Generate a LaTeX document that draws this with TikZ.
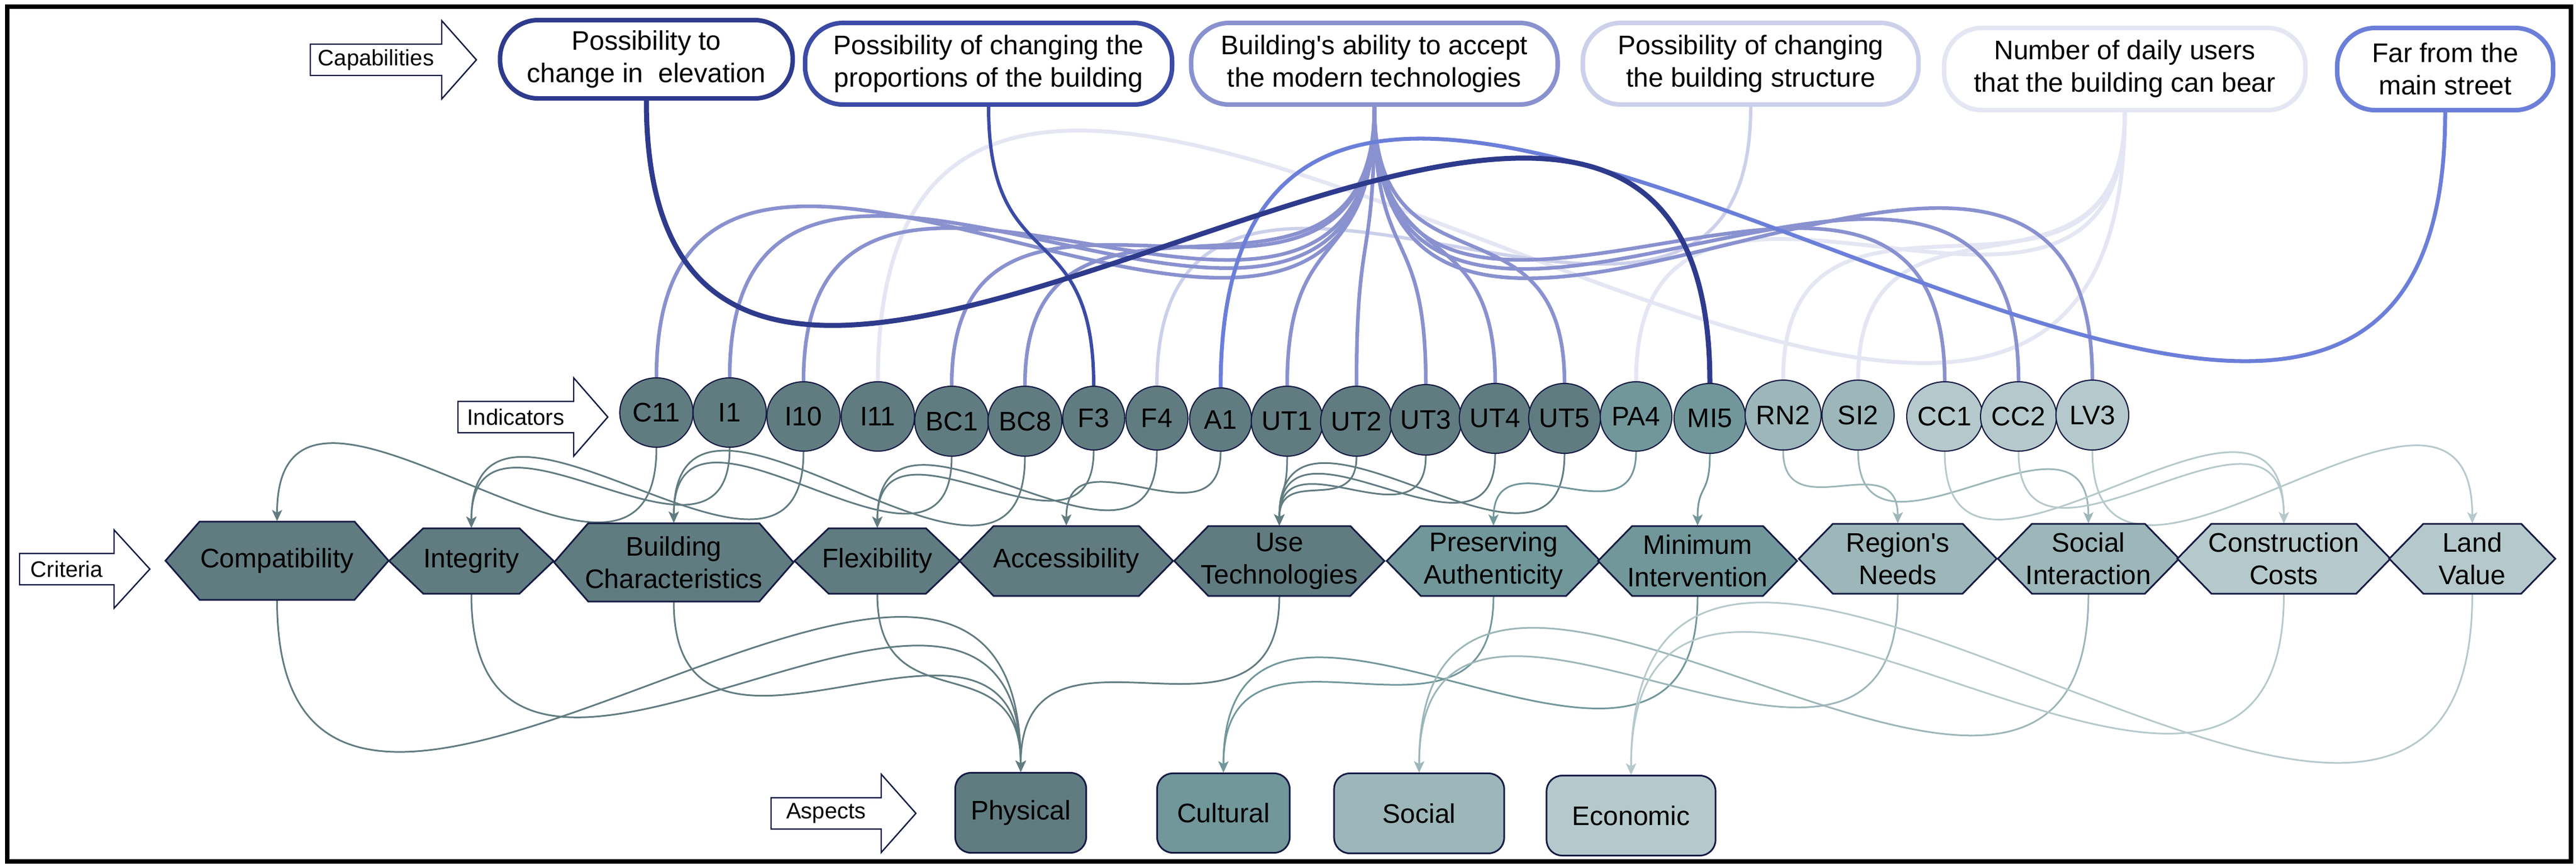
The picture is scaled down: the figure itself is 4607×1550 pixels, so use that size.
\documentclass[tikz,border=0pt]{standalone}
\usepackage{fontspec}
\setmainfont{Liberation Sans}[Ligatures=TeXOff]
\usetikzlibrary{shapes.geometric,arrows.meta,backgrounds}

\definecolor{capA}{HTML}{2E3A8C}
\definecolor{capB}{HTML}{3B4BA6}
\definecolor{capC}{HTML}{8991CF}
\definecolor{capD}{HTML}{CCD0EA}
\definecolor{capE}{HTML}{E5E6F3}
\definecolor{capF}{HTML}{6B7FD9}
\definecolor{tealA}{HTML}{617C81}
\definecolor{tealB}{HTML}{71979B}
\definecolor{tealC}{HTML}{9CB6B9}
\definecolor{tealD}{HTML}{B5C9CC}
\definecolor{nodeline}{HTML}{151B44}

\tikzset{
  capbox/.style={draw=#1, line width=2.3pt, rounded corners=0.68cm, fill=white,
    align=center, inner sep=0pt, font=\fontsize{13.66}{16.5}\selectfont},
  indnode/.style={ellipse, draw=nodeline, line width=0.6pt, fill=#1, inner sep=0pt,
    font=\fontsize{13.66}{16.5}\selectfont},
  crittext/.style={inner sep=0pt, align=center, font=\fontsize{13.66}{16.5}\selectfont},
  hexline/.style={draw=nodeline, line width=0.85pt, fill=#1},
  aspbox/.style={draw=nodeline, line width=0.85pt, fill=#1, rounded corners=0.28cm,
    inner sep=0pt, font=\fontsize{13.66}{16.5}\selectfont},
  lblline/.style={draw=nodeline, line width=0.7pt, fill=white},
  lbltext/.style={inner sep=0pt, font=\fontsize{11.4}{13}\selectfont},
  capedge/.style={draw=#1, out=-90, in=90, looseness=1.49},
  lowedge/.style={draw=#1, line width=0.85pt, out=-90, in=90, looseness=1.49,
    -{Stealth[length=0.2cm,width=0.18cm,inset=0.05cm]}},
}

% hexagon criterion: name, cx, cy, top half-width, half-height, fill, text
\newcommand\critnode[7]{%
  \draw[hexline=#6] ({#2-#4},{-#3+#5}) -- ({#2+#4},{-#3+#5}) -- ({#2+#4+61},{-#3})
    -- ({#2+#4},{-#3-#5}) -- ({#2-#4},{-#3-#5}) -- ({#2-#4-61},{-#3}) -- cycle;
  \node[crittext, minimum width={2*#4*0.01cm}, minimum height={2*#5*0.01cm}] (#1) at (#2,-#3) {#7};}

% label arrow: name, x left, x head base, x tip, y centre, text
\newcommand\tagarrow[6]{%
  \draw[lblline] (#2,{-#5+28}) -- (#3,{-#5+28}) -- (#3,{-#5+70}) -- (#4,-#5)
    -- (#3,{-#5-70}) -- (#3,{-#5-28}) -- (#2,{-#5-28}) -- cycle;
  \node[lbltext] (#1) at ({(#2+#3)/2},-#5) {#6};}

\begin{document}
\begin{tikzpicture}[x=0.01cm, y=0.01cm]
\useasboundingbox (0,0) rectangle (4607,-1550);

% capabilities
\node[capbox=capA, minimum width=5.23cm, minimum height=1.40cm] (cap1) at (1156,-106) {Possibility to\\change in\ \ elevation};
\node[capbox=capB, minimum width=6.56cm, minimum height=1.46cm] (cap2) at (1768,-114) {Possibility of changing the\\proportions of the building};
\node[capbox=capC, minimum width=6.55cm, minimum height=1.46cm] (cap3) at (2458,-114) {Building's ability to accept\\the modern technologies};
\node[capbox=capD, minimum width=6.00cm, minimum height=1.46cm] (cap4) at (3131,-114) {Possibility of changing\\the building structure};
\node[capbox=capE, minimum width=6.46cm, minimum height=1.47cm] (cap5) at (3800,-123.5) {Number of daily users\\that the building can bear};
\node[capbox=capF, minimum width=3.86cm, minimum height=1.47cm] (cap6) at (4373,-123.5) {Far from the\\main street};

% indicators
\node[indnode=tealA, minimum width=1.31cm, minimum height=1.24cm] (c11) at (1174,-738) {C11};
\node[indnode=tealA, minimum width=1.31cm, minimum height=1.24cm] (i1) at (1305,-738) {I1};
\node[indnode=tealA, minimum width=1.31cm, minimum height=1.24cm] (i10) at (1437,-745) {I10};
\node[indnode=tealA, minimum width=1.31cm, minimum height=1.24cm] (i11) at (1570,-745) {I11};
\node[indnode=tealA, minimum width=1.31cm, minimum height=1.25cm] (bc1) at (1702,-753.5) {BC1};
\node[indnode=tealA, minimum width=1.31cm, minimum height=1.25cm] (bc8) at (1833,-753.5) {BC8};
\node[indnode=tealA, minimum width=1.11cm, minimum height=1.14cm] (f3) at (1956,-748) {F3};
\node[indnode=tealA, minimum width=1.11cm, minimum height=1.14cm] (f4) at (2069,-748) {F4};
\node[indnode=tealA, minimum width=1.11cm, minimum height=1.13cm] (a1) at (2183,-750.5) {A1};
\node[indnode=tealA, minimum width=1.21cm, minimum height=1.25cm] (ut1) at (2302,-753.5) {UT1};
\node[indnode=tealA, minimum width=1.21cm, minimum height=1.25cm] (ut2) at (2426,-753.5) {UT2};
\node[indnode=tealA, minimum width=1.21cm, minimum height=1.26cm] (ut3) at (2550,-751) {UT3};
\node[indnode=tealA, minimum width=1.21cm, minimum height=1.25cm] (ut4) at (2674,-748.5) {UT4};
\node[indnode=tealA, minimum width=1.21cm, minimum height=1.25cm] (ut5) at (2798,-748.5) {UT5};
\node[indnode=tealB, minimum width=1.28cm, minimum height=1.24cm] (pa4) at (2926,-745) {PA4};
\node[indnode=tealB, minimum width=1.28cm, minimum height=1.25cm] (mi5) at (3058,-748.5) {MI5};
\node[indnode=tealC, minimum width=1.29cm, minimum height=1.25cm] (rn2) at (3189,-742.5) {RN2};
\node[indnode=tealC, minimum width=1.29cm, minimum height=1.25cm] (si2) at (3323,-742.5) {SI2};
\node[indnode=tealD, minimum width=1.30cm, minimum height=1.24cm] (cc1) at (3478,-745) {CC1};
\node[indnode=tealD, minimum width=1.30cm, minimum height=1.24cm] (cc2) at (3610,-745) {CC2};
\node[indnode=tealD, minimum width=1.30cm, minimum height=1.25cm] (lv3) at (3742,-742.5) {LV3};

% criteria
\critnode{comp}{495.5}{1003}{138.5}{70}{tealA}{Compatibility}
\critnode{integ}{843}{1003.5}{86}{58.5}{tealA}{Integrity}
\critnode{bchar}{1205}{1006}{153}{70}{tealA}{Building\\Characteristics}
\critnode{flex}{1569}{1003.5}{87}{58.5}{tealA}{Flexibility}
\critnode{access}{1907}{1003.5}{130}{62.5}{tealA}{Accessibility}
\critnode{usetech}{2288}{1003.5}{127}{62.5}{tealA}{Use\\Technologies}
\critnode{presauth}{2671}{1003.5}{130}{62.5}{tealB}{Preserving\\Authenticity}
\critnode{minint}{3036}{1003.5}{117}{62.5}{tealB}{Minimum\\Intervention}
\critnode{regneeds}{3394}{999.5}{116}{62.5}{tealC}{Region's\\Needs}
\critnode{socint}{3735}{999.5}{101}{62.5}{tealC}{Social\\Interaction}
\critnode{constc}{4084.5}{999.5}{129.5}{62.5}{tealD}{Construction\\Costs}
\critnode{landv}{4421.5}{999.5}{87.5}{62.5}{tealD}{Land\\Value}

% aspects
\node[aspbox=tealA, minimum width=2.34cm, minimum height=1.43cm] (phys) at (1825.5,-1454) {Physical};
\node[aspbox=tealB, minimum width=2.37cm, minimum height=1.42cm] (cult) at (2188,-1454.5) {Cultural};
\node[aspbox=tealC, minimum width=3.04cm, minimum height=1.43cm] (soc) at (2538,-1455) {Social};
\node[aspbox=tealD, minimum width=3.02cm, minimum height=1.43cm] (econ) at (2917,-1459) {Economic};

% row labels
\tagarrow{tcap}{555}{790}{852}{107}{Capabilities}
\tagarrow{tind}{819}{1026}{1087}{746}{Indicators}
\tagarrow{tcrit}{35}{204}{268}{1018}{Criteria}
\tagarrow{tasp}{1379}{1576}{1638}{1455}{Aspects}

% frame
\draw[line width=2.3pt, black] (13,-12) rectangle (4598,-1541);

\begin{scope}[on background layer]
  % capabilities -> indicators
  \foreach \t in {i11,pa4,rn2,si2}
    \draw[capedge=capE, line width=2pt] (cap5.south) to (\t.north);
  \draw[capedge=capD, line width=1.7pt] (cap4.south) to (f4.north);
  \foreach \t in {c11,i1,i10,bc1,bc8,ut1,ut2,ut3,ut4,ut5,cc1,cc2,lv3}
    \draw[capedge=capC, line width=1.85pt] (cap3.south) to (\t.north);
  \draw[capedge=capF, line width=2pt] (cap6.south) to (a1.north);
  \draw[capedge=capB, line width=1.7pt] (cap2.south) to (f3.north);
  \draw[capedge=capA, line width=2.56pt] (cap1.south) to (mi5.north);
  % indicators -> criteria
  \foreach \s/\t/\c in {c11/comp/tealA, i1/integ/tealA, i10/integ/tealA,
      bc1/bchar/tealA, bc8/bchar/tealA, f3/flex/tealA, f4/flex/tealA,
      a1/access/tealA, ut1/usetech/tealA, ut2/usetech/tealA, ut3/usetech/tealA,
      ut4/usetech/tealA, ut5/usetech/tealA, pa4/presauth/tealB, mi5/minint/tealB,
      rn2/regneeds/tealC, si2/socint/tealC, cc1/constc/tealD, cc2/constc/tealD,
      lv3/landv/tealD}
    \draw[lowedge=\c] (\s.south) to (\t.north);
  % criteria -> aspects
  \foreach \s/\t/\c in {comp/phys/tealA, integ/phys/tealA, bchar/phys/tealA,
      flex/phys/tealA, usetech/phys/tealA, presauth/cult/tealB, minint/cult/tealB,
      regneeds/soc/tealC, socint/soc/tealC, constc/econ/tealD, landv/econ/tealD}
    \draw[lowedge=\c] (\s.south) to (\t.north);
\end{scope}
\end{tikzpicture}
\end{document}
